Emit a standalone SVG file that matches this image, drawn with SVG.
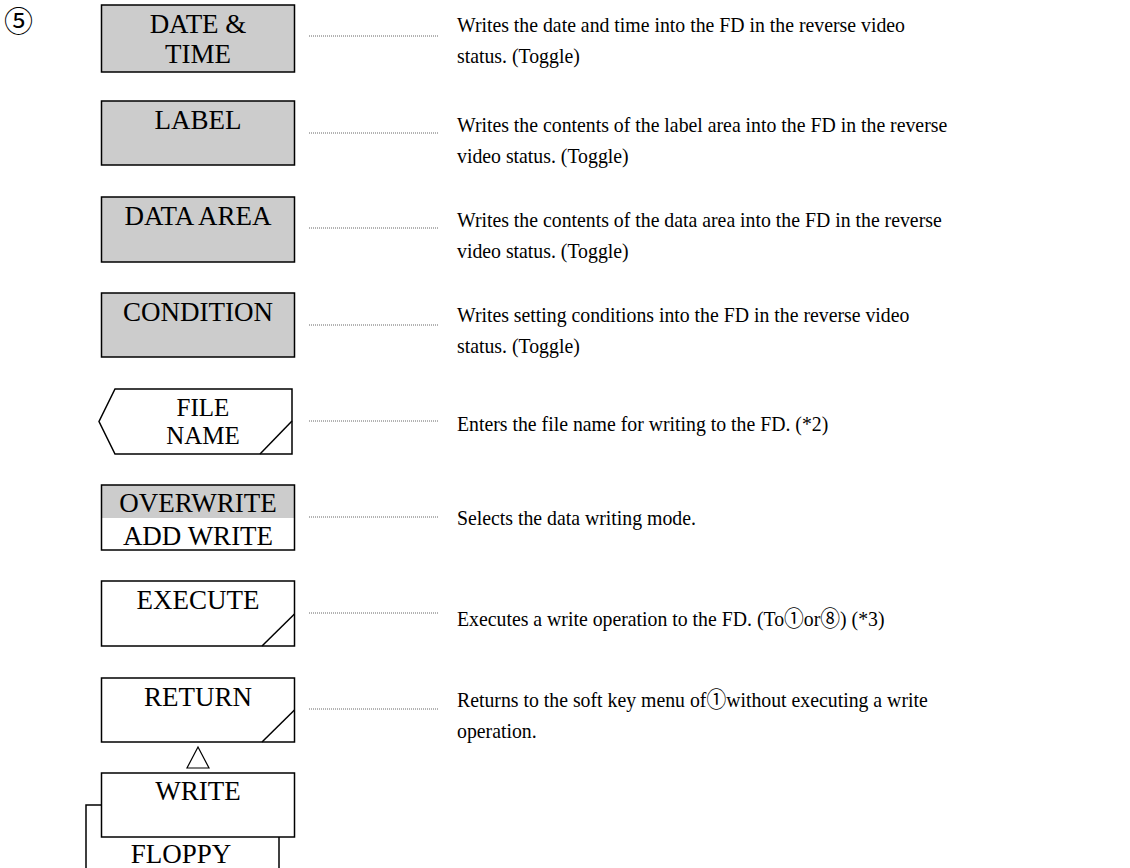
<svg xmlns="http://www.w3.org/2000/svg" width="1130" height="868" viewBox="0 0 1130 868">
<style>
.key{stroke:#000;stroke-width:1.5}
.gray{fill:#cccccc}
.white{fill:#ffffff}
.lbl{font-family:"Liberation Serif","Times New Roman",serif;font-size:27px;fill:#000;text-anchor:middle}
.sm{font-size:25px}
.desc{font-family:"Liberation Serif","Noto Sans CJK JP",serif;font-size:22px;fill:#000}
.lead{stroke:#666;stroke-width:1;stroke-dasharray:1 1;fill:none}
.edge{stroke:#000;stroke-width:1.5;fill:none}
.circ{font-family:"Noto Sans CJK JP","DejaVu Sans",sans-serif;font-size:29px;fill:#000}
</style>
<rect width="1130" height="868" fill="#fff"/>
<text class="circ" x="4" y="32">⑤</text>

<g id="connectors">
<line class="lead" x1="309" y1="36" x2="438" y2="36"/>
<line class="lead" x1="309" y1="133" x2="438" y2="133"/>
<line class="lead" x1="309" y1="228" x2="438" y2="228"/>
<line class="lead" x1="309" y1="325" x2="438" y2="325"/>
<line class="lead" x1="309" y1="421" x2="438" y2="421"/>
<line class="lead" x1="309" y1="517" x2="438" y2="517"/>
<line class="lead" x1="309" y1="613" x2="438" y2="613"/>
<line class="lead" x1="309" y1="709" x2="438" y2="709"/>
<polygon points="198,747 187,768 209,768" fill="#fff" stroke="#000" stroke-width="1.2"/>
</g>

<g id="floppy">
<polyline class="edge" points="86,870 86,805 102,805"/>
<line class="edge" x1="279" y1="837" x2="279" y2="870"/>
<text class="lbl" x="181" y="863">FLOPPY</text>
</g>

<g id="date-time">
<rect class="key gray" x="101.5" y="5" width="193" height="67"/>
<text class="lbl" x="198" y="33">DATE &amp;</text>
<text class="lbl" x="198" y="63">TIME</text>
</g>

<g id="label">
<rect class="key gray" x="101.5" y="101" width="193" height="64"/>
<text class="lbl" x="198" y="129">LABEL</text>
</g>

<g id="data-area">
<rect class="key gray" x="101.5" y="197" width="193" height="65"/>
<text class="lbl" x="198" y="225">DATA AREA</text>
</g>

<g id="condition">
<rect class="key gray" x="101.5" y="293" width="193" height="64"/>
<text class="lbl" x="198" y="321">CONDITION</text>
</g>

<g id="file-name">
<polygon class="key white" points="115,389 292,389 292,454 115,454 99,421.5"/>
<line class="edge" x1="260" y1="454" x2="292" y2="421"/>
<text class="lbl sm" x="203" y="416">FILE</text>
<text class="lbl sm" x="203" y="444">NAME</text>
</g>

<g id="overwrite">
<rect class="white" x="101.5" y="485" width="193" height="65"/>
<rect class="gray" x="101.5" y="485" width="193" height="33"/>
<rect x="101.5" y="485" width="193" height="65" fill="none" class="key"/>
<text class="lbl" x="198" y="512">OVERWRITE</text>
<text class="lbl" x="198" y="545">ADD WRITE</text>
</g>

<g id="execute">
<rect class="key white" x="101.5" y="581" width="193" height="65"/>
<line class="edge" x1="262" y1="646" x2="294.5" y2="614"/>
<text class="lbl" x="198" y="609">EXECUTE</text>
</g>

<g id="return">
<rect class="key white" x="101.5" y="678" width="193" height="64"/>
<line class="edge" x1="262" y1="742" x2="294.5" y2="710"/>
<text class="lbl" x="198" y="706">RETURN</text>
</g>

<g id="write">
<rect class="key white" x="101.5" y="773" width="193" height="64"/>
<text class="lbl" x="198" y="800">WRITE</text>
</g>

<g id="descriptions" transform="translate(457 0) scale(0.9 1)">
<text class="desc" x="0" y="32">Writes the date and time into the FD in the reverse video</text>
<text class="desc" x="0" y="63">status. (Toggle)</text>
<text class="desc" x="0" y="132">Writes the contents of the label area into the FD in the reverse</text>
<text class="desc" x="0" y="163">video status. (Toggle)</text>
<text class="desc" x="0" y="227">Writes the contents of the data area into the FD in the reverse</text>
<text class="desc" x="0" y="258">video status. (Toggle)</text>
<text class="desc" x="0" y="322">Writes setting conditions into the FD in the reverse video</text>
<text class="desc" x="0" y="353">status. (Toggle)</text>
<text class="desc" x="0" y="431">Enters the file name for writing to the FD. (*2)</text>
<text class="desc" x="0" y="525">Selects the data writing mode.</text>
<text class="desc" x="0" y="626">Executes a write operation to the FD. (To①or⑧) (*3)</text>
<text class="desc" x="0" y="707">Returns to the soft key menu of①without executing a write</text>
<text class="desc" x="0" y="738">operation.</text>
</g>
</svg>
